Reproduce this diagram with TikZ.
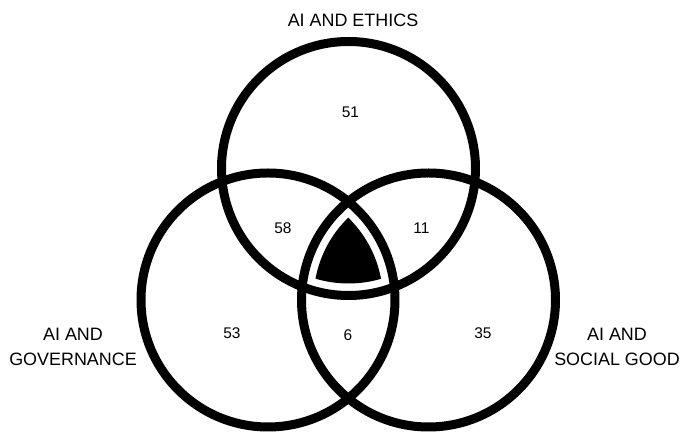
\documentclass[tikz,border=0pt]{standalone}
\usepackage{fontspec}
\setmainfont{Liberation Sans}
\tikzset{
  ring/.style={line width=0.18cm},
  setname/.style={align=center,font=\fontsize{10.2}{14.2}\selectfont},
  count/.style={font=\fontsize{8.8}{10}\selectfont}
}
\begin{document}
\begin{tikzpicture}[x=0.02cm,y=0.02cm,line cap=round,line join=round]
\useasboundingbox (0,0) rectangle (681,436);

\coordinate (T) at (348.5,267.5);
\coordinate (L) at (268,136);
\coordinate (R) at (428.5,136);

% gemeinsamer Kern
\begin{scope}
  \clip (T) circle (115);
  \clip (L) circle (115);
  \fill (R) circle (115);
\end{scope}

\draw[ring] (T) circle (127);
\draw[ring] (L) circle (127);
\draw[ring] (R) circle (127);

\node[setname] (ethics) at (353,415.5) {AI AND ETHICS};
\node[setname] (gov) at (73,89) {AI AND\\GOVERNANCE};
\node[setname] (social) at (617,89) {AI AND\\SOCIAL GOOD};

\node[count] (n51) at (350.5,323.5) {51};
\node[count] (n58) at (283,208) {58};
\node[count] (n11) at (421.5,208) {11};
\node[count] (n53) at (232,103) {53};
\node[count] (n35) at (483,103) {35};
\node[count] (n6) at (348,101) {6};
\end{tikzpicture}
\end{document}
